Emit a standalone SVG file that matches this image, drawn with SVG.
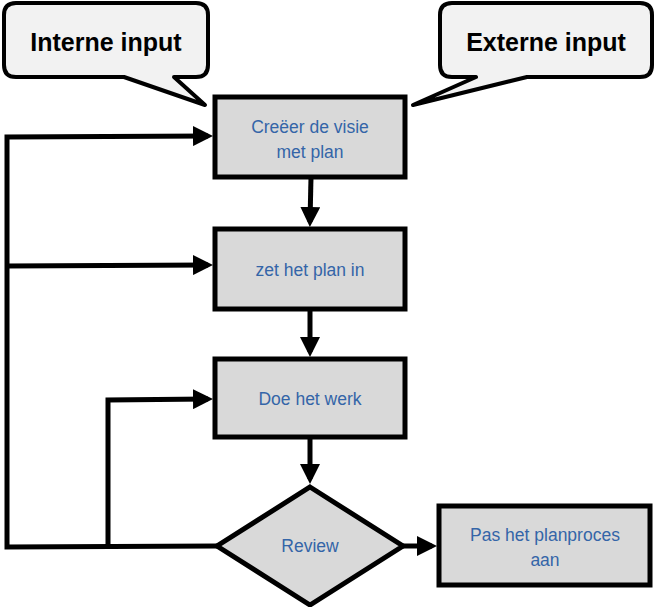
<svg xmlns="http://www.w3.org/2000/svg" width="654" height="607" viewBox="0 0 654 607">
<style>
.box{fill:#d9d9d9;stroke:#000;stroke-width:5;stroke-linejoin:miter}
.call{fill:#f2f2f2;stroke:#000;stroke-width:4;stroke-linejoin:round}
.lbl{font-family:"Liberation Sans",Arial,sans-serif;font-size:17.5px;fill:#3465a8;text-anchor:middle}
.big{font-family:"Liberation Sans",Arial,sans-serif;font-size:25px;font-weight:bold;fill:#000;text-anchor:middle}
.con{fill:none;stroke:#000;stroke-width:5}
</style>
<defs>
<marker id="ah" markerWidth="4" markerHeight="4" refX="3" refY="2" orient="auto" markerUnits="strokeWidth">
<path d="M0,0 L4,2 L0,4 Z" fill="#000"/>
</marker>
</defs>
<g id="interne">
<path class="call" d="M16,3 H196 Q208,3 208,15 V65 Q208,77 196,77 H174 L205,105 L124,77 H16 Q4,77 4,65 V15 Q4,3 16,3 Z"/>
<text class="big" x="106" y="51">Interne input</text>
</g>
<g id="externe">
<path class="call" d="M452,3 H640 Q652,3 652,15 V65 Q652,77 640,77 H527 L413,105 L476,77 H452 Q440,77 440,65 V15 Q440,3 452,3 Z"/>
<text class="big" x="546" y="51">Externe input</text>
</g>
<g id="creeer">
<rect class="box" x="215" y="97" width="190" height="80"/>
<text class="lbl" x="310" y="133">Creëer de visie</text>
<text class="lbl" x="310" y="158">met plan</text>
</g>
<g id="zet">
<rect class="box" x="215" y="229" width="190" height="80"/>
<text class="lbl" x="310" y="276">zet het plan in</text>
</g>
<g id="doe">
<rect class="box" x="215" y="359" width="190" height="78"/>
<text class="lbl" x="310" y="405">Doe het werk</text>
</g>
<g id="review">
<path class="box" d="M310,487 L403,546 L310,605 L217,546 Z"/>
<text class="lbl" x="310" y="552">Review</text>
</g>
<g id="pas">
<rect class="box" x="439" y="506" width="211" height="79"/>
<text class="lbl" x="545" y="541">Pas het planproces</text>
<text class="lbl" x="545" y="566">aan</text>
</g>
<g id="connectors">
<path class="con" d="M311,177 L310,222" marker-end="url(#ah)"/>
<path class="con" d="M310,309 L310,352" marker-end="url(#ah)"/>
<path class="con" d="M310,437 L310,479" marker-end="url(#ah)"/>
<path class="con" d="M403,546 L432,546" marker-end="url(#ah)"/>
<path class="con" d="M217,546 L7,547 L7,137 L208,136" marker-end="url(#ah)"/>
<path class="con" d="M7,266 L208,265" marker-end="url(#ah)"/>
<path class="con" d="M108,547 L108,400 L208,399" marker-end="url(#ah)"/>
</g>
</svg>
